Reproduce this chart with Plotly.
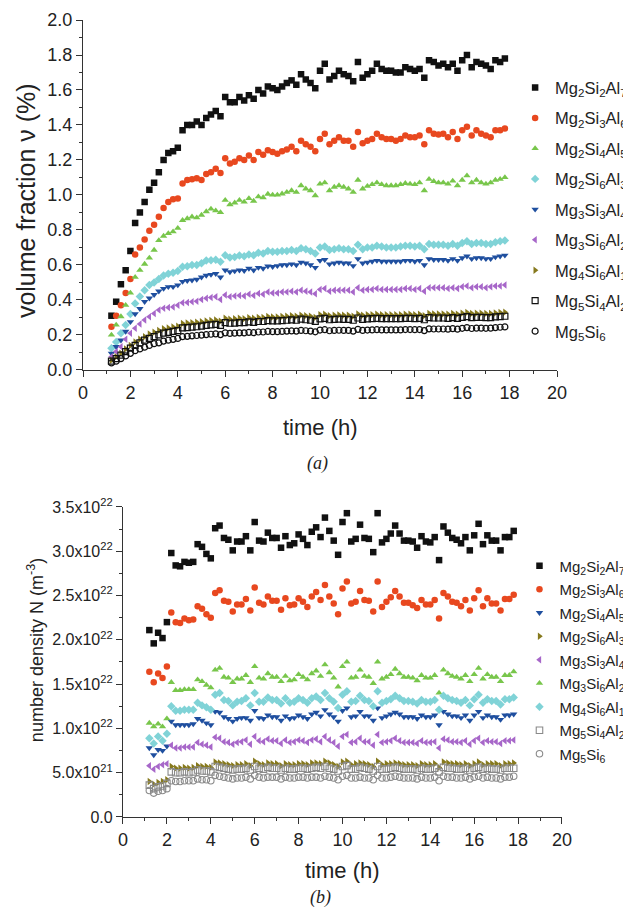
import plotly.graph_objects as go

# ---------------- data ----------------
# measurement times (h)
T = [1.2, 1.4, 1.6, 1.8, 2.0, 2.2, 2.4, 2.6, 2.8, 3.0, 3.2, 3.4,
     3.6, 3.8, 4.0, 4.2, 4.4, 4.6, 4.8, 5.0, 5.2, 5.4, 5.6, 5.8,
     6.0, 6.2, 6.4, 6.6, 6.8, 7.0, 7.2, 7.4, 7.6, 7.8, 8.0, 8.2,
     8.4, 8.6, 8.8, 9.0, 9.2, 9.4, 9.6, 9.8, 10.0, 10.2, 10.4, 10.6,
     10.8, 11.0, 11.2, 11.4, 11.6, 11.8, 12.0, 12.2, 12.4, 12.6, 12.8, 13.0,
     13.2, 13.4, 13.6, 13.8, 14.0, 14.2, 14.4, 14.6, 14.8, 15.0, 15.2, 15.4,
     15.6, 15.8, 16.0, 16.2, 16.4, 16.6, 16.8, 17.0, 17.2, 17.4, 17.6, 17.8]

# (a) volume fraction (%)
v_black = [0.31, 0.39, 0.49, 0.57, 0.68, 0.84, 0.90, 0.96, 1.03, 1.07, 1.13, 1.20,
           1.24, 1.25, 1.27, 1.37, 1.40, 1.40, 1.42, 1.40, 1.44, 1.46, 1.48, 1.45,
           1.56, 1.53, 1.53, 1.56, 1.54, 1.57, 1.55, 1.60, 1.58, 1.62, 1.61, 1.60,
           1.62, 1.64, 1.655, 1.63, 1.69, 1.66, 1.64, 1.61, 1.71, 1.75, 1.66, 1.68,
           1.71, 1.69, 1.68, 1.65, 1.76, 1.67, 1.69, 1.71, 1.75, 1.72, 1.71, 1.71,
           1.70, 1.70, 1.73, 1.72, 1.71, 1.72, 1.67, 1.77, 1.76, 1.74, 1.75, 1.73,
           1.75, 1.71, 1.77, 1.80, 1.73, 1.76, 1.75, 1.74, 1.72, 1.77, 1.76, 1.78]
v_red = [0.247, 0.31, 0.37, 0.44, 0.52, 0.66, 0.70, 0.745, 0.795, 0.83, 0.875, 0.925,
         0.96, 0.975, 0.98, 1.065, 1.085, 1.09, 1.095, 1.085, 1.12, 1.13, 1.15, 1.125,
         1.21, 1.18, 1.19, 1.21, 1.20, 1.225, 1.20, 1.245, 1.23, 1.255, 1.245, 1.235,
         1.25, 1.26, 1.275, 1.25, 1.31, 1.29, 1.275, 1.25, 1.32, 1.35, 1.29, 1.31,
         1.33, 1.31, 1.31, 1.275, 1.36, 1.295, 1.31, 1.32, 1.35, 1.33, 1.32, 1.32,
         1.31, 1.32, 1.34, 1.33, 1.33, 1.34, 1.29, 1.37, 1.35, 1.345, 1.35, 1.33,
         1.36, 1.32, 1.37, 1.39, 1.34, 1.37, 1.35, 1.34, 1.33, 1.37, 1.37, 1.38]
v_green = [0.20, 0.257, 0.305, 0.37, 0.44, 0.53, 0.57, 0.605, 0.64, 0.685, 0.74, 0.765,
           0.78, 0.79, 0.81, 0.855, 0.865, 0.875, 0.87, 0.885, 0.905, 0.92, 0.91, 0.90,
           0.97, 0.945, 0.955, 0.97, 0.96, 0.98, 0.965, 0.99, 0.985, 1.005, 1.0, 1.0,
           1.007, 1.016, 1.025, 1.016, 1.054, 1.035, 1.025, 0.997, 1.063, 1.07, 1.025, 1.045,
           1.054, 1.045, 1.035, 1.016, 1.085, 1.035, 1.05, 1.06, 1.07, 1.06, 1.054, 1.054,
           1.054, 1.06, 1.067, 1.063, 1.06, 1.07, 1.025, 1.09, 1.078, 1.07, 1.07, 1.063,
           1.08, 1.054, 1.085, 1.11, 1.07, 1.085, 1.07, 1.063, 1.07, 1.085, 1.09, 1.10]
v_cyan = [0.124, 0.16, 0.21, 0.257, 0.32, 0.38, 0.42, 0.456, 0.485, 0.50, 0.52, 0.54,
          0.55, 0.555, 0.565, 0.59, 0.593, 0.60, 0.60, 0.61, 0.625, 0.627, 0.63, 0.618,
          0.655, 0.643, 0.646, 0.654, 0.65, 0.66, 0.655, 0.67, 0.665, 0.68, 0.675, 0.675,
          0.68, 0.68, 0.685, 0.68, 0.695, 0.69, 0.68, 0.665, 0.70, 0.705, 0.685, 0.69,
          0.695, 0.69, 0.69, 0.68, 0.715, 0.69, 0.70, 0.70, 0.71, 0.705, 0.70, 0.70,
          0.70, 0.705, 0.71, 0.71, 0.705, 0.71, 0.69, 0.72, 0.715, 0.715, 0.715, 0.71,
          0.72, 0.71, 0.725, 0.735, 0.72, 0.725, 0.725, 0.72, 0.72, 0.73, 0.735, 0.74]
v_blue = [0.095, 0.133, 0.17, 0.22, 0.275, 0.32, 0.35, 0.39, 0.41, 0.43, 0.45, 0.465,
          0.475, 0.475, 0.485, 0.505, 0.51, 0.513, 0.517, 0.53, 0.54, 0.545, 0.55, 0.53,
          0.57, 0.56, 0.565, 0.57, 0.567, 0.58, 0.57, 0.585, 0.58, 0.593, 0.59, 0.595,
          0.60, 0.60, 0.605, 0.60, 0.615, 0.61, 0.60, 0.585, 0.625, 0.63, 0.605, 0.61,
          0.615, 0.61, 0.61, 0.595, 0.635, 0.61, 0.615, 0.62, 0.625, 0.62, 0.62, 0.62,
          0.62, 0.62, 0.625, 0.625, 0.62, 0.625, 0.60, 0.635, 0.63, 0.63, 0.63, 0.625,
          0.635, 0.625, 0.64, 0.65, 0.635, 0.64, 0.64, 0.635, 0.635, 0.645, 0.65, 0.655]
v_purple = [0.076, 0.105, 0.133, 0.175, 0.21, 0.238, 0.262, 0.285, 0.304, 0.323, 0.342, 0.352,
            0.357, 0.36, 0.37, 0.384, 0.386, 0.39, 0.393, 0.403, 0.41, 0.414, 0.418, 0.403,
            0.428, 0.418, 0.422, 0.426, 0.422, 0.433, 0.426, 0.437, 0.433, 0.445, 0.44, 0.44,
            0.445, 0.445, 0.45, 0.445, 0.455, 0.45, 0.445, 0.435, 0.46, 0.465, 0.45, 0.455,
            0.455, 0.455, 0.455, 0.445, 0.47, 0.455, 0.46, 0.46, 0.465, 0.46, 0.46, 0.46,
            0.46, 0.46, 0.465, 0.465, 0.46, 0.465, 0.45, 0.47, 0.47, 0.47, 0.47, 0.465,
            0.47, 0.465, 0.475, 0.48, 0.47, 0.475, 0.475, 0.47, 0.475, 0.48, 0.48, 0.485]
v_olive = [0.055, 0.075, 0.095, 0.12, 0.14, 0.16, 0.175, 0.19, 0.205, 0.215, 0.225, 0.235,
           0.24, 0.245, 0.25, 0.265, 0.268, 0.27, 0.272, 0.275, 0.28, 0.282, 0.285, 0.278,
           0.295, 0.29, 0.292, 0.295, 0.293, 0.298, 0.295, 0.30, 0.30, 0.305, 0.303, 0.303,
           0.305, 0.307, 0.31, 0.307, 0.313, 0.31, 0.307, 0.30, 0.315, 0.318, 0.31, 0.312,
           0.314, 0.312, 0.312, 0.307, 0.32, 0.312, 0.315, 0.316, 0.318, 0.316, 0.316, 0.316,
           0.316, 0.316, 0.318, 0.318, 0.316, 0.318, 0.31, 0.322, 0.32, 0.32, 0.32, 0.318,
           0.322, 0.318, 0.324, 0.328, 0.322, 0.324, 0.324, 0.322, 0.322, 0.326, 0.328, 0.33]
v_opensq = [0.05, 0.065, 0.085, 0.105, 0.125, 0.14, 0.155, 0.17, 0.18, 0.19, 0.20, 0.21,
            0.215, 0.22, 0.225, 0.24, 0.242, 0.245, 0.247, 0.25, 0.255, 0.258, 0.26, 0.255,
            0.27, 0.267, 0.268, 0.27, 0.27, 0.275, 0.272, 0.277, 0.277, 0.282, 0.28, 0.28,
            0.282, 0.284, 0.286, 0.284, 0.29, 0.287, 0.284, 0.278, 0.292, 0.295, 0.287, 0.289,
            0.291, 0.289, 0.289, 0.284, 0.297, 0.289, 0.292, 0.293, 0.295, 0.293, 0.293, 0.293,
            0.293, 0.293, 0.295, 0.295, 0.293, 0.295, 0.287, 0.299, 0.297, 0.297, 0.297, 0.295,
            0.299, 0.295, 0.301, 0.305, 0.299, 0.301, 0.301, 0.299, 0.299, 0.303, 0.305, 0.307]
v_opencirc = [0.04, 0.05, 0.065, 0.08, 0.095, 0.11, 0.12, 0.13, 0.14, 0.15, 0.155, 0.165,
              0.17, 0.175, 0.18, 0.19, 0.192, 0.195, 0.197, 0.199, 0.202, 0.204, 0.206, 0.202,
              0.212, 0.209, 0.21, 0.212, 0.212, 0.215, 0.213, 0.217, 0.217, 0.22, 0.219, 0.219,
              0.22, 0.222, 0.223, 0.222, 0.226, 0.224, 0.222, 0.218, 0.228, 0.23, 0.224, 0.226,
              0.227, 0.226, 0.226, 0.222, 0.232, 0.226, 0.228, 0.229, 0.23, 0.229, 0.229, 0.229,
              0.229, 0.229, 0.231, 0.231, 0.23, 0.231, 0.225, 0.235, 0.234, 0.234, 0.234, 0.233,
              0.236, 0.233, 0.238, 0.242, 0.237, 0.239, 0.239, 0.238, 0.239, 0.242, 0.244, 0.246]

# (b) number density, in units of 1e22 m^-3
n_black = [2.11, 1.96, 2.08, 2.02, 2.20, 2.98, 2.84, 2.83, 2.88, 2.87, 2.88, 3.08,
           3.05, 2.97, 2.92, 3.26, 3.29, 3.15, 3.13, 3.01, 3.11, 3.11, 3.17, 3.01,
           3.33, 3.12, 3.11, 3.21, 3.15, 3.15, 3.04, 3.17, 3.07, 3.09, 3.19, 3.14,
           3.07, 3.22, 3.27, 3.16, 3.38, 3.23, 3.12, 2.96, 3.33, 3.43, 3.11, 3.14,
           3.30, 3.15, 3.14, 2.99, 3.43, 3.10, 3.14, 3.20, 3.29, 3.20, 3.12, 3.12,
           3.11, 3.04, 3.17, 3.11, 3.10, 3.16, 2.90, 3.28, 3.21, 3.15, 3.13, 3.09,
           3.16, 3.01, 3.18, 3.31, 3.08, 3.18, 3.12, 3.12, 3.01, 3.16, 3.16, 3.23]
n_red = [1.64, 1.52, 1.62, 1.57, 1.70, 2.31, 2.20, 2.19, 2.24, 2.22, 2.23, 2.38,
         2.35, 2.29, 2.25, 2.53, 2.56, 2.44, 2.43, 2.32, 2.40, 2.40, 2.46, 2.33,
         2.59, 2.42, 2.40, 2.49, 2.44, 2.44, 2.34, 2.47, 2.39, 2.40, 2.47, 2.43,
         2.37, 2.49, 2.54, 2.45, 2.62, 2.49, 2.41, 2.29, 2.58, 2.66, 2.41, 2.43,
         2.55, 2.45, 2.44, 2.32, 2.66, 2.37, 2.43, 2.48, 2.55, 2.49, 2.42, 2.42,
         2.39, 2.36, 2.45, 2.40, 2.40, 2.45, 2.24, 2.53, 2.49, 2.43, 2.42, 2.38,
         2.45, 2.33, 2.47, 2.56, 2.38, 2.47, 2.41, 2.41, 2.33, 2.46, 2.46, 2.51]
n_green = [1.06, 1.02, 1.05, 1.02, 1.11, 1.52, 1.43, 1.43, 1.44, 1.44, 1.44, 1.55,
           1.53, 1.49, 1.46, 1.66, 1.68, 1.58, 1.57, 1.52, 1.56, 1.56, 1.60, 1.52,
           1.70, 1.57, 1.56, 1.62, 1.58, 1.58, 1.53, 1.59, 1.54, 1.55, 1.61, 1.58,
           1.55, 1.62, 1.65, 1.59, 1.72, 1.63, 1.57, 1.47, 1.70, 1.75, 1.57, 1.58,
           1.66, 1.59, 1.58, 1.51, 1.75, 1.56, 1.58, 1.61, 1.67, 1.62, 1.58, 1.58,
           1.57, 1.54, 1.60, 1.57, 1.57, 1.60, 1.40, 1.66, 1.62, 1.59, 1.58, 1.56,
           1.60, 1.53, 1.61, 1.68, 1.56, 1.61, 1.58, 1.58, 1.53, 1.60, 1.60, 1.64]
n_cyan = [0.89, 0.83, 0.91, 0.86, 0.94, 1.25, 1.20, 1.20, 1.21, 1.21, 1.21, 1.29,
          1.26, 1.24, 1.21, 1.38, 1.40, 1.32, 1.31, 1.26, 1.30, 1.31, 1.34, 1.26,
          1.40, 1.30, 1.30, 1.35, 1.32, 1.32, 1.28, 1.34, 1.29, 1.30, 1.34, 1.32,
          1.29, 1.34, 1.36, 1.32, 1.40, 1.34, 1.30, 1.23, 1.38, 1.42, 1.30, 1.31,
          1.37, 1.32, 1.31, 1.25, 1.42, 1.29, 1.31, 1.33, 1.37, 1.34, 1.31, 1.31,
          1.30, 1.28, 1.32, 1.30, 1.30, 1.32, 1.21, 1.37, 1.34, 1.32, 1.31, 1.29,
          1.32, 1.26, 1.33, 1.38, 1.29, 1.33, 1.31, 1.31, 1.27, 1.33, 1.33, 1.35]
n_blue = [0.78, 0.70, 0.76, 0.75, 0.80, 1.08, 1.04, 1.04, 1.04, 1.04, 1.05, 1.11,
          1.09, 1.06, 1.04, 1.19, 1.18, 1.13, 1.11, 1.08, 1.11, 1.12, 1.12, 1.09,
          1.20, 1.12, 1.11, 1.15, 1.13, 1.13, 1.09, 1.14, 1.11, 1.12, 1.15, 1.13,
          1.11, 1.16, 1.18, 1.14, 1.21, 1.16, 1.13, 1.08, 1.20, 1.23, 1.13, 1.14,
          1.19, 1.14, 1.14, 1.09, 1.23, 1.12, 1.14, 1.16, 1.18, 1.16, 1.13, 1.13,
          1.13, 1.11, 1.15, 1.13, 1.13, 1.15, 1.04, 1.19, 1.16, 1.14, 1.14, 1.12,
          1.15, 1.09, 1.15, 1.19, 1.12, 1.15, 1.13, 1.13, 1.10, 1.15, 1.15, 1.16]
n_purple = [0.58, 0.54, 0.57, 0.59, 0.60, 0.81, 0.78, 0.78, 0.79, 0.79, 0.79, 0.84,
            0.82, 0.81, 0.79, 0.90, 0.89, 0.85, 0.84, 0.82, 0.84, 0.85, 0.87, 0.82,
            0.91, 0.86, 0.85, 0.88, 0.86, 0.86, 0.83, 0.87, 0.84, 0.85, 0.87, 0.86,
            0.84, 0.87, 0.88, 0.85, 0.91, 0.87, 0.84, 0.80, 0.91, 0.93, 0.84, 0.85,
            0.89, 0.85, 0.85, 0.81, 0.93, 0.84, 0.85, 0.86, 0.89, 0.86, 0.84, 0.84,
            0.84, 0.83, 0.86, 0.84, 0.84, 0.85, 0.78, 0.88, 0.87, 0.85, 0.85, 0.84,
            0.86, 0.82, 0.86, 0.89, 0.84, 0.86, 0.85, 0.85, 0.83, 0.86, 0.86, 0.87]
n_olive = [0.40, 0.37, 0.39, 0.40, 0.42, 0.57, 0.55, 0.55, 0.56, 0.55, 0.56, 0.58,
           0.57, 0.57, 0.56, 0.62, 0.61, 0.60, 0.59, 0.58, 0.59, 0.59, 0.60, 0.58,
           0.63, 0.60, 0.59, 0.61, 0.60, 0.60, 0.58, 0.60, 0.59, 0.59, 0.60, 0.60,
           0.59, 0.61, 0.61, 0.60, 0.63, 0.61, 0.59, 0.57, 0.62, 0.63, 0.59, 0.60,
           0.61, 0.60, 0.59, 0.57, 0.63, 0.59, 0.60, 0.60, 0.61, 0.60, 0.59, 0.59,
           0.59, 0.58, 0.60, 0.59, 0.59, 0.60, 0.56, 0.62, 0.61, 0.60, 0.60, 0.59,
           0.60, 0.58, 0.60, 0.62, 0.59, 0.60, 0.60, 0.60, 0.58, 0.60, 0.60, 0.61]
n_opensq = [0.36, 0.32, 0.34, 0.35, 0.38, 0.51, 0.50, 0.50, 0.51, 0.50, 0.51, 0.53,
            0.52, 0.52, 0.51, 0.57, 0.56, 0.55, 0.54, 0.53, 0.54, 0.54, 0.55, 0.53,
            0.57, 0.55, 0.54, 0.56, 0.55, 0.55, 0.53, 0.55, 0.54, 0.54, 0.55, 0.55,
            0.54, 0.55, 0.56, 0.55, 0.57, 0.55, 0.54, 0.52, 0.57, 0.58, 0.54, 0.54,
            0.56, 0.55, 0.54, 0.52, 0.57, 0.54, 0.54, 0.55, 0.56, 0.55, 0.54, 0.54,
            0.54, 0.53, 0.55, 0.54, 0.54, 0.55, 0.51, 0.56, 0.55, 0.55, 0.54, 0.54,
            0.55, 0.53, 0.55, 0.56, 0.54, 0.55, 0.54, 0.54, 0.53, 0.55, 0.55, 0.55]
n_opencirc = [0.30, 0.27, 0.29, 0.30, 0.32, 0.41, 0.40, 0.40, 0.41, 0.41, 0.41, 0.43,
              0.42, 0.42, 0.41, 0.47, 0.46, 0.45, 0.44, 0.43, 0.44, 0.44, 0.45, 0.43,
              0.47, 0.45, 0.44, 0.45, 0.45, 0.45, 0.43, 0.45, 0.44, 0.44, 0.45, 0.45,
              0.44, 0.45, 0.45, 0.44, 0.46, 0.45, 0.44, 0.42, 0.46, 0.47, 0.44, 0.44,
              0.45, 0.44, 0.44, 0.42, 0.47, 0.44, 0.44, 0.45, 0.46, 0.45, 0.44, 0.44,
              0.44, 0.43, 0.45, 0.44, 0.44, 0.45, 0.41, 0.46, 0.45, 0.45, 0.44, 0.44,
              0.45, 0.43, 0.45, 0.46, 0.44, 0.45, 0.44, 0.44, 0.43, 0.45, 0.45, 0.46]

labels_top = ["Mg<sub>2</sub>Si<sub>2</sub>Al<sub>7</sub>", "Mg<sub>2</sub>Si<sub>3</sub>Al<sub>6</sub>",
              "Mg<sub>2</sub>Si<sub>4</sub>Al<sub>5</sub>", "Mg<sub>2</sub>Si<sub>6</sub>Al<sub>3</sub>",
              "Mg<sub>3</sub>Si<sub>3</sub>Al<sub>4</sub>", "Mg<sub>3</sub>Si<sub>6</sub>Al<sub>2</sub>",
              "Mg<sub>4</sub>Si<sub>6</sub>Al<sub>1</sub>", "Mg<sub>5</sub>Si<sub>4</sub>Al<sub>2</sub>",
              "Mg<sub>5</sub>Si<sub>6</sub>"]
labels_bottom = labels_top  # same label order in legend (b), but with its own marker order

y_ticks_b = [0, 0.5, 1.0, 1.5, 2.0, 2.5, 3.0, 3.5]
y_ticktext_b = ["0.0", "5.0x10<sup>21</sup>", "1.0x10<sup>22</sup>", "1.5x10<sup>22</sup>",
                "2.0x10<sup>22</sup>", "2.5x10<sup>22</sup>", "3.0x10<sup>22</sup>", "3.5x10<sup>22</sup>"]

# ---------------- styles ----------------
C_BLACK = "#111111"
C_RED = "#e8481f"
C_GREEN = "#78c64b"
C_CYAN = "#80d3d7"
C_BLUE = "#1f4f9f"
C_PURPLE = "#a767c9"
C_OLIVE = "#86791d"
C_OPEN_B = "#8a8a8a"

FONT = "Liberation Sans, Arial, sans-serif"

top_series = [
    (v_black, "square", C_BLACK),
    (v_red, "circle", C_RED),
    (v_green, "triangle-up", C_GREEN),
    (v_cyan, "diamond", C_CYAN),
    (v_blue, "triangle-down", C_BLUE),
    (v_purple, "triangle-left", C_PURPLE),
    (v_olive, "triangle-right", C_OLIVE),
    (v_opensq, "square-open", C_BLACK),
    (v_opencirc, "circle-open", C_BLACK),
]
bottom_series = [
    (n_black, "square", C_BLACK),
    (n_red, "circle", C_RED),
    (n_blue, "triangle-down", C_BLUE),
    (n_olive, "triangle-right", C_OLIVE),
    (n_purple, "triangle-left", C_PURPLE),
    (n_green, "triangle-up", C_GREEN),
    (n_cyan, "diamond", C_CYAN),
    (n_opensq, "square-open", C_OPEN_B),
    (n_opencirc, "circle-open", C_OPEN_B),
]

fig = go.Figure()
for i, ((vals, sym, col), name) in enumerate(zip(top_series, labels_top)):
    is_open = sym.endswith("open")
    fig.add_trace(go.Scatter(
        x=T, y=vals, mode="markers", name=name,
        marker=dict(symbol=sym, color=col, size=6.5 if not is_open else 6,
                    line=dict(width=1.2 if is_open else 0, color=col)),
        xaxis="x", yaxis="y", legend="legend", legendgroup="a%d" % i))

for i, ((vals, sym, col), name) in enumerate(zip(bottom_series, labels_bottom)):
    is_open = sym.endswith("open")
    fig.add_trace(go.Scatter(
        x=T, y=vals, mode="markers", name=name,
        marker=dict(symbol=sym, color=col, size=6.5,
                    line=dict(width=1.1 if is_open else 0, color=col)),
        xaxis="x2", yaxis="y2", legend="legend2", legendgroup="b%d" % i))

axis_common = dict(showline=True, linecolor="#333333", linewidth=1.2, showgrid=False,
                   zeroline=False, ticks="outside", ticklen=6, tickwidth=1.2, automargin=False,
                   tickcolor="#333333", tickfont=dict(family=FONT, size=18, color="#222222"))

# the page body adds an 8 px offset, so the figure is 8 px smaller than the window
fig.update_layout(
    width=623, height=903,
    paper_bgcolor="white", plot_bgcolor="white",
    margin=dict(l=75, r=69, t=12, b=94, autoexpand=False),
    font=dict(family=FONT, color="#222222"),
    showlegend=True,
    xaxis=dict(domain=[0, 0.9896], anchor="y", range=[0, 20], dtick=2, tick0=0,
               minor=dict(dtick=1, tick0=0, ticks="outside", ticklen=3, tickcolor="#333333"),
               **axis_common),
    yaxis=dict(domain=[0.5609, 1], anchor="x", range=[0, 2.0], dtick=0.2, tick0=0,
               tickformat=".1f",
               minor=dict(dtick=0.1, tick0=0, ticks="outside", ticklen=3, tickcolor="#333333"),
               **axis_common),
    xaxis2=dict(domain=[0.0835, 1], anchor="y2", range=[0, 20], dtick=2, tick0=0,
                minor=dict(dtick=1, tick0=0, ticks="outside", ticklen=3, tickcolor="#333333"),
                **axis_common),
    yaxis2=dict(domain=[0, 0.389], anchor="x2", range=[0, 3.5],
                tickmode="array", tickvals=y_ticks_b, ticktext=y_ticktext_b,
                minor=dict(dtick=0.25, tick0=0, ticks="outside", ticklen=3, tickcolor="#333333"),
                **axis_common),
    legend=dict(xref="container", yref="container", x=0.814, y=0.931,
                xanchor="left", yanchor="top",
                bgcolor="rgba(0,0,0,0)", traceorder="grouped", tracegroupgap=6,
                font=dict(family=FONT, size=16.5, color="#222222")),
    legend2=dict(xref="container", yref="container", x=0.821, y=0.4004,
                 xanchor="left", yanchor="top",
                 bgcolor="rgba(0,0,0,0)", traceorder="grouped", tracegroupgap=1,
                 font=dict(family=FONT, size=15, color="#222222")),
)
fig.layout.yaxis2.tickfont.size = 16

ann_font = dict(family=FONT, size=22, color="#222222")
fig.add_annotation(text="volume fraction \u03bd (%)", xref="paper", yref="paper",
                   x=-0.119, y=0.774, xanchor="center", yanchor="middle",
                   textangle=-90, showarrow=False,
                   font=dict(family=FONT, size=25, color="#222222"))
fig.add_annotation(text="time (h)", xref="paper", yref="paper", x=0.495, y=0.489,
                   xanchor="center", yanchor="middle", showarrow=False, font=ann_font)
fig.add_annotation(text="<i>(a)</i>", xref="paper", yref="paper", x=0.49, y=0.444,
                   xanchor="center", yanchor="middle", showarrow=False,
                   font=dict(family="Liberation Serif, serif", size=18, color="#222222"))
fig.add_annotation(text="number density N (m<sup>-3</sup>)", xref="paper", yref="paper",
                   x=-0.1, y=0.2095, xanchor="center", yanchor="middle",
                   textangle=-90, showarrow=False,
                   font=dict(family=FONT, size=18, color="#222222"))
fig.add_annotation(text="time (h)", xref="paper", yref="paper", x=0.541, y=-0.0665,
                   xanchor="center", yanchor="middle", showarrow=False, font=ann_font)
fig.add_annotation(text="<i>(b)</i>", xref="paper", yref="paper", x=0.495, y=-0.1016,
                   xanchor="center", yanchor="middle", showarrow=False,
                   font=dict(family="Liberation Serif, serif", size=18, color="#222222"))

fig.write_html("out.html")
